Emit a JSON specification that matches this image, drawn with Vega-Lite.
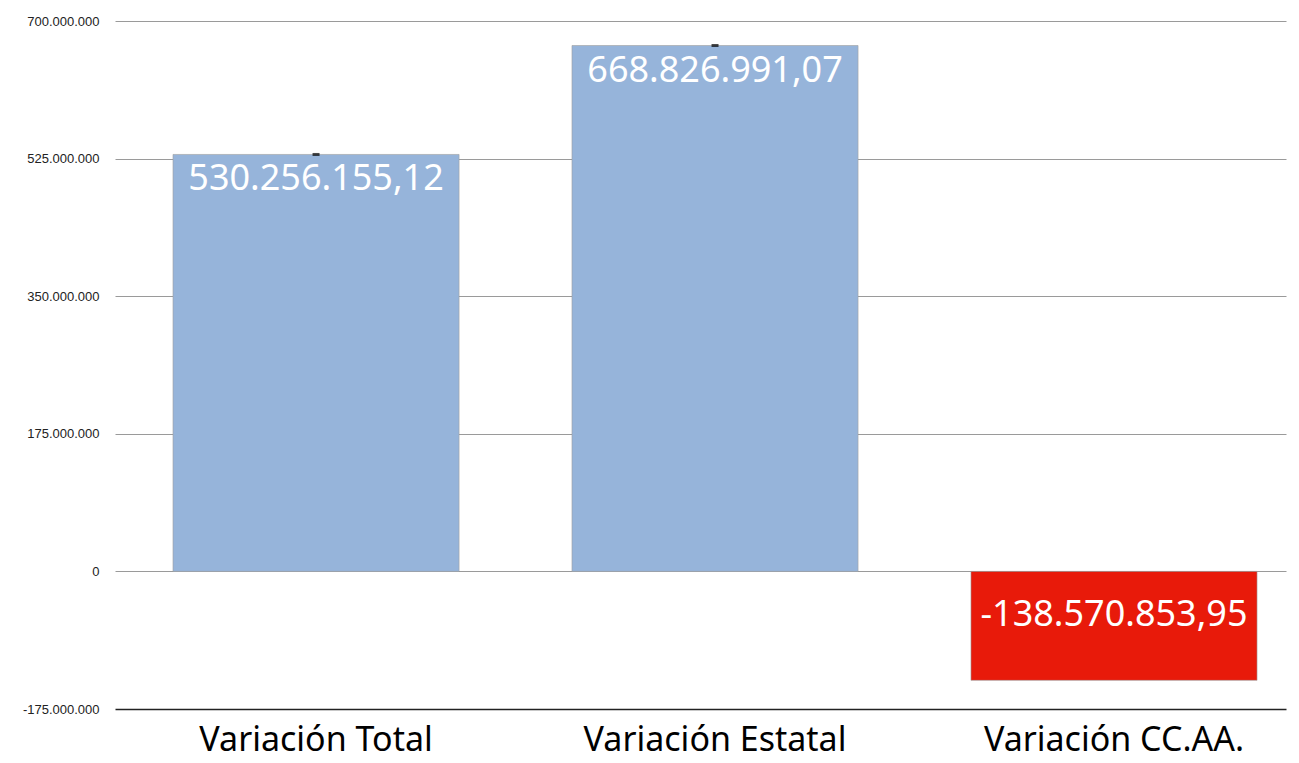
{
  "$schema": "https://vega.github.io/schema/vega-lite/v6.json",
  "width": 1171,
  "height": 688,
  "autosize": {"type": "none"},
  "padding": {"left": 115, "top": 21, "right": 13, "bottom": 54},
  "background": "white",
  "config": {
    "locale": {"number": {"decimal": ",", "thousands": ".", "grouping": [3], "currency": ["", " €"], "minus": "-"}},
    "view": {"stroke": null}
  },
  "data": {
    "values": [
      {"categoria": "Variación Total", "value": 530256155.12},
      {"categoria": "Variación Estatal", "value": 668826991.07},
      {"categoria": "Variación CC.AA.", "value": -138570853.95}
    ]
  },
  "encoding": {
    "x": {
      "field": "categoria",
      "type": "nominal",
      "sort": null,
      "scale": {"paddingInner": 0.283, "paddingOuter": 0.109, "align": 0.667},
      "axis": {
        "title": null,
        "labelAngle": 0,
        "labelFont": "Noto Sans",
        "labelFontSize": 34,
        "labelColor": "#000000",
        "labelPadding": 14,
        "labelLimit": 0,
        "ticks": false,
        "domain": false
      }
    },
    "y": {
      "field": "value",
      "type": "quantitative",
      "scale": {"domain": [-175000000, 700000000], "nice": false, "zero": false},
      "axis": {
        "title": null,
        "values": [-175000000, 0, 175000000, 350000000, 525000000, 700000000],
        "format": ",d",
        "labelFont": "Liberation Sans",
        "labelFontSize": 13,
        "labelColor": "#222222",
        "labelPadding": 16,
        "ticks": false,
        "domain": false,
        "grid": true,
        "gridColor": {"condition": {"test": "datum.value === -175000000", "value": "#222222"}, "value": "#9a9a9a"},
        "gridWidth": {"condition": {"test": "datum.value === -175000000", "value": 1.5}, "value": 1}
      }
    }
  },
  "layer": [
    {
      "mark": {"type": "bar", "stroke": "#a0a0a0", "strokeWidth": 0.6},
      "encoding": {
        "y2": {"datum": 0},
        "color": {
          "condition": {"test": "datum.value < 0", "value": "#E81A0A"},
          "value": "#96B4DA"
        }
      }
    },
    {
      "transform": [{"filter": "datum.value > 0"}],
      "mark": {"type": "tick", "color": "#000000", "size": 7, "thickness": 3, "orient": "horizontal"},
      "encoding": {}
    },
    {
      "transform": [{"filter": "datum.value > 0"}],
      "mark": {"type": "text", "baseline": "top", "dy": 8, "font": "Noto Sans", "fontSize": 36, "color": "#ffffff"},
      "encoding": {"text": {"field": "value", "type": "quantitative", "format": ",.2f"}}
    },
    {
      "transform": [{"filter": "datum.value < 0"}],
      "mark": {"type": "text", "baseline": "middle", "font": "Noto Sans", "fontSize": 36, "color": "#ffffff"},
      "encoding": {
        "y": {"datum": -56000000},
        "text": {"field": "value", "type": "quantitative", "format": ",.2f"}
      }
    }
  ]
}
